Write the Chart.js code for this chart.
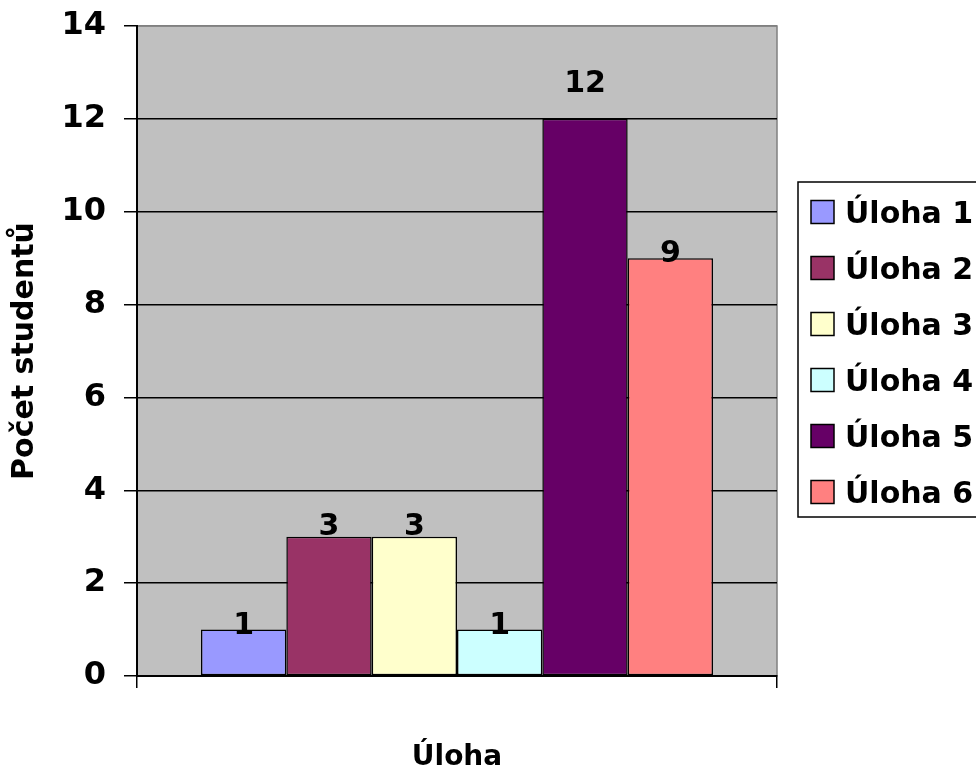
<!DOCTYPE html>
<html lang="cs">
<head>
<meta charset="utf-8">
<title>Počet studentů podle úlohy</title>
<script src="https://cdn.jsdelivr.net/npm/chart.js@4.4.1/dist/chart.umd.min.js"></script>
<style>
  html, body { margin: 0; padding: 0; background: #ffffff; }
  #wrap { width: 976px; height: 769px; }
</style>
</head>
<body>
<div id="wrap"><canvas id="chart" width="976" height="769"></canvas></div>
<script>
// Series: one bar per task, all in the same single category
const taskNames = ['Úloha 1', 'Úloha 2', 'Úloha 3', 'Úloha 4', 'Úloha 5', 'Úloha 6'];
const studentCounts = [1, 3, 3, 1, 12, 9];
const barColors = ['#9999FF', '#993366', '#FFFFCC', '#CCFFFF', '#660066', '#FF8080'];
const categories = [''];
const yTicks = [0, 2, 4, 6, 8, 10, 12, 14];

// Vertical lift (px) of each value label above its bar top
const labelLift = [-4, 2, 2, -4, 27, -4];

const FONT = "'DejaVu Sans', 'Liberation Sans', sans-serif";

const datasets = taskNames.map((name, i) => ({
  label: name,
  data: [studentCounts[i]],
  backgroundColor: barColors[i],
  borderColor: '#000000',
  borderWidth: 1.5,
  borderSkipped: false,
  categoryPercentage: 0.8,
  barPercentage: 1.0
}));

// Grey plot area with a grey frame
const plotBackground = {
  id: 'plotBackground',
  beforeDraw(chart) {
    const { ctx, chartArea: a } = chart;
    ctx.save();
    ctx.fillStyle = '#C0C0C0';
    ctx.fillRect(a.left, a.top, a.right - a.left, a.bottom - a.top);
    ctx.strokeStyle = '#808080';
    ctx.lineWidth = 1.5;
    ctx.strokeRect(a.left, a.top, a.right - a.left, a.bottom - a.top);
    ctx.restore();
  }
};

// Value labels above each bar
const valueLabels = {
  id: 'valueLabels',
  afterDatasetsDraw(chart) {
    const { ctx } = chart;
    ctx.save();
    ctx.font = 'bold 30px ' + FONT;
    ctx.fillStyle = '#000000';
    ctx.textAlign = 'center';
    ctx.textBaseline = 'alphabetic';
    chart.data.datasets.forEach((ds, i) => {
      const meta = chart.getDatasetMeta(i);
      meta.data.forEach((bar, j) => {
        ctx.fillText(String(ds.data[j]), bar.x, bar.y - labelLift[i]);
      });
    });
    ctx.restore();
  }
};

// Framed legend on the right
const boxedLegend = {
  id: 'boxedLegend',
  afterDraw(chart) {
    const { ctx } = chart;
    const left = 798, top = 182, bottom = 517;
    const rowTop = 212, rowStep = 56, sq = 23;
    ctx.save();
    ctx.fillStyle = '#ffffff';
    ctx.fillRect(left, top, 220, bottom - top);
    ctx.strokeStyle = '#000000';
    ctx.lineWidth = 1.5;
    ctx.strokeRect(left, top, 220, bottom - top);
    ctx.font = 'bold 30px ' + FONT;
    ctx.textAlign = 'left';
    ctx.textBaseline = 'alphabetic';
    chart.data.datasets.forEach((ds, i) => {
      const cy = rowTop + i * rowStep;
      ctx.fillStyle = ds.backgroundColor;
      ctx.fillRect(811, cy - sq / 2, sq, sq);
      ctx.strokeStyle = '#000000';
      ctx.lineWidth = 1.5;
      ctx.strokeRect(811, cy - sq / 2, sq, sq);
      ctx.fillStyle = '#000000';
      ctx.fillText(ds.label, 845, cy + 11);
    });
    ctx.restore();
  }
};

new Chart(document.getElementById('chart'), {
  type: 'bar',
  data: { labels: categories, datasets },
  plugins: [plotBackground, valueLabels, boxedLegend],
  options: {
    responsive: false,
    animation: false,
    devicePixelRatio: 1,
    layout: { padding: { top: 26, right: 199, bottom: 0, left: 0 } },
    plugins: {
      legend: { display: false },
      tooltip: { enabled: false }
    },
    scales: {
      x: {
        offset: true,
        afterFit(scale) {
          scale.height = 93;
          scale.paddingLeft = 0;
          scale.paddingRight = 0;
        },
        grid: {
          offset: true,
          drawOnChartArea: false,
          drawTicks: true,
          tickLength: 12,
          tickColor: '#000000',
          lineWidth: 1.5
        },
        border: { display: true, color: '#000000', width: 2 },
        ticks: { display: false },
        title: {
          display: true,
          text: 'Úloha',
          color: '#000000',
          font: { family: FONT, size: 28, weight: 'bold', lineHeight: 0.8 },
          padding: { top: 0, bottom: 0 }
        }
      },
      y: {
        min: 0,
        max: 14,
        afterFit(scale) {
          scale.width = 137;
          scale.paddingTop = 0;
          scale.paddingBottom = 0;
        },
        afterBuildTicks(scale) { scale.ticks = yTicks.map(v => ({ value: v })); },
        grid: {
          color: ctx => (ctx.tick && ctx.tick.value === 14 ? '#808080' : '#000000'),
          lineWidth: 1.5,
          drawTicks: true,
          tickLength: 13,
          tickColor: '#000000',
          tickWidth: 1.5
        },
        border: { display: true, color: '#000000', width: 2 },
        ticks: {
          color: '#000000',
          padding: 18,
          font: { family: FONT, size: 32, weight: 'bold' }
        },
        title: {
          display: true,
          text: 'Počet studentů',
          color: '#000000',
          font: { family: FONT, size: 30, weight: 'bold' },
          padding: { top: 7, bottom: 0 }
        }
      }
    }
  }
});
</script>
</body>
</html>
